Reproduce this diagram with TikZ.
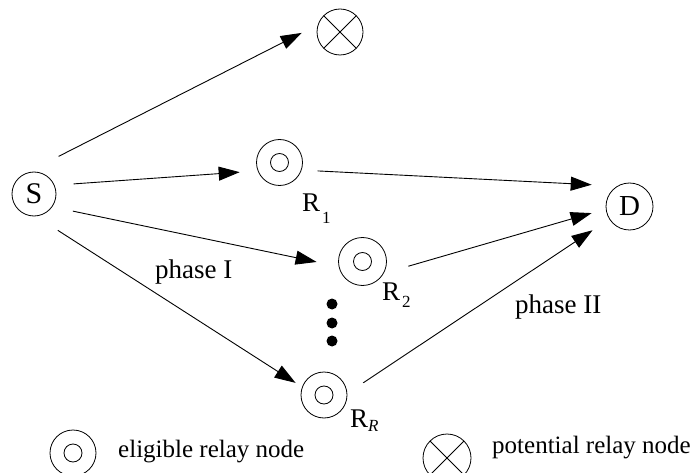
\documentclass[tikz,border=0pt]{standalone}
\usepackage{fontspec}
\setmainfont{Liberation Serif}
\usetikzlibrary{arrows.meta}
\begin{document}
\begin{tikzpicture}[x=1pt,y=-1pt,
  every node/.style={inner sep=0pt},
  ring/.style={circle, draw, line width=0.8pt, minimum size=46pt},
  eligible/.style={ring, path picture={\draw[line width=0.8pt] (path picture bounding box.center) circle (9pt);}},
  potential/.style={ring, path picture={\draw[line width=0.8pt] (path picture bounding box.north west) -- (path picture bounding box.south east) (path picture bounding box.north east) -- (path picture bounding box.south west);}},
  link/.style={line width=0.9pt, -{Triangle[length=21pt,width=14pt]}},
  lbl/.style={font=\fontsize{27}{27}\selectfont, anchor=base west},
  leg/.style={font=\fontsize{25}{25}\selectfont, anchor=base west},
  sub/.style={font=\fontsize{17}{17}\selectfont, anchor=base west},
  dotnode/.style={circle, fill, minimum size=11pt}]
\useasboundingbox (0,0) rectangle (696,473);
% nodes
\node[ring, minimum size=44pt, font=\fontsize{30}{30}\selectfont] (S) at (34,194) {S};
\node[potential] (P) at (340,32) {};
\node[eligible] (R1) at (279.5,162.5) {};
\node[eligible, minimum size=48pt] (R2) at (362.5,261.5) {};
\node[eligible] (RR) at (324,395) {};
\node[ring, minimum size=47pt, font=\fontsize{29}{29}\selectfont] (D) at (629.5,206.5) {D};
% labels
\node[lbl] (l1) at (302,212) {R};
\node[sub] (l1s) at (322,223) {1};
\node[lbl] (l2) at (382,300) {R};
\node[sub] (l2s) at (402,307) {2};
\node[lbl] (l3) at (350,427) {R};
\node[sub] (l3s) at (368,431) {\itshape R};
\node[lbl] (ph1) at (155,278) {phase I};
\node[lbl] (ph2) at (515,313) {phase II};
% dots
\node[dotnode] (d1) at (332,304) {};
\node[dotnode] (d2) at (332,323) {};
\node[dotnode] (d3) at (332,341) {};
% legend
\node[eligible] (e1) at (73,453) {};
\node[leg] (t1) at (118,457) {eligible relay node};
\node[potential, minimum size=48pt] (p1) at (447,458) {};
\node[leg] (t2) at (492,453) {potential relay node};
% connectors
\draw[link, shorten <=39pt, shorten >=18pt] (S.117) -- (P.162);
\draw[link, shorten <=19pt, shorten >=18pt] (S.23) -- (R1.201);
\draw[link, shorten <=16pt, shorten >=25.5pt] (R1.341) -- (D.121);
\draw[link, shorten <=21pt, shorten >=22.5pt] (S.325) -- (R2.192);
\draw[link, shorten <=25.5pt, shorten >=14.7pt] (R2.331) -- (D.186);
\draw[link, shorten <=26pt, shorten >=7.6pt] (S.275) -- (RR.160);
\draw[link, shorten <=19pt, shorten >=20pt] (RR.4) -- (D.212);
\end{tikzpicture}
\end{document}
